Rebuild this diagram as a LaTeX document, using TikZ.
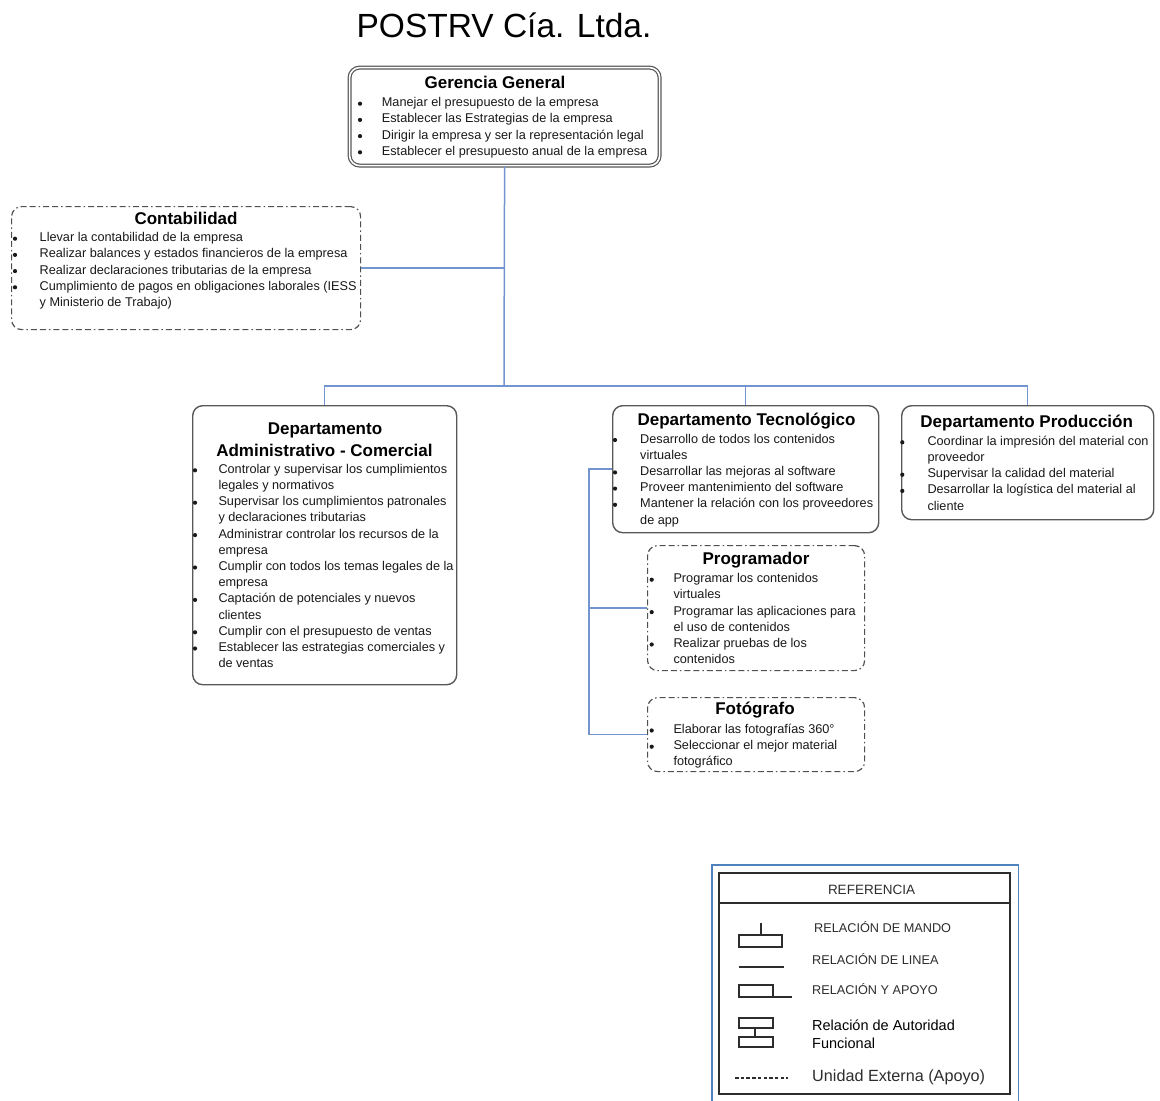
\documentclass[tikz,border=0pt]{standalone}
\usepackage{fontspec}
\setmainfont{Liberation Sans}
\usepackage{array}
\definecolor{linkblue}{RGB}{114,148,207}
\definecolor{framegray}{RGB}{88,88,88}
\definecolor{dashgray}{RGB}{80,80,80}
\definecolor{legendblue}{RGB}{79,129,189}
\definecolor{bodyink}{RGB}{25,25,25}
\definecolor{legendink}{RGB}{45,45,45}

% round list bullet, sized like a word-processor bullet
\newcommand\dutybullet{\tikz[baseline=0pt, x=1pt, y=1pt]\fill[bodyink] (2.3,3) circle (2.1);}

\tikzset{
  solidbox/.style={draw=framegray, line width=1.4pt, rounded corners=10pt,
    anchor=north west, inner sep=0pt, fill=white},
  headbox/.style={solidbox, double, double distance=1.6pt, line width=1.2pt},
  dashbox/.style={draw=dashgray, line width=1.2pt, rounded corners=10pt,
    anchor=north west, inner sep=0pt, fill=white,
    dash pattern=on 6pt off 3pt on 6pt off 3pt on 1.5pt off 3pt},
  boxtitle/.style={anchor=base, inner sep=0pt, text=black,
    font=\fontsize{17}{20}\selectfont\bfseries},
  duty/.style={anchor=base west, inner sep=0pt, text=bodyink,
    font=\fontsize{12.7}{16.2}\selectfont},
  conn/.style={draw=linkblue, line width=1.5pt},
  legsym/.style={draw=legendink, line width=1.3pt},
  legtext/.style={anchor=base west, inner sep=0pt, text=legendink},
}

\begin{document}
\begin{tikzpicture}[x=1pt, y=-1pt]
\useasboundingbox (0,0) rectangle (1160,1101);

% ---- heading
\node[anchor=base, inner sep=0pt, font=\fontsize{33.5}{40}\selectfont] (title)
  at (504,37.3) {POSTRV Cía. Ltda.};

% ---- unit frames
\node[headbox, minimum width=310pt, minimum height=98pt] (ger) at (349,67) {};
\node[dashbox, minimum width=349pt, minimum height=123pt] (cont) at (11,206) {};
\node[solidbox, minimum width=264pt, minimum height=279pt] (adm) at (192,405) {};
\node[solidbox, minimum width=266pt, minimum height=127pt] (tech) at (612,405) {};
\node[solidbox, minimum width=252pt, minimum height=114pt] (prod) at (901,405) {};
\node[dashbox, minimum width=217pt, minimum height=125pt] (prog) at (647,545) {};
\node[dashbox, minimum width=217pt, minimum height=74pt] (foto) at (647,697) {};

% ---- connectors
\coordinate (bus) at (504,386);
\coordinate (techbranch) at (589,600);
\draw[conn] (ger.south) -- (bus);
\draw[conn] (cont.east) -- (cont.east -| ger.south);
\draw[conn] (adm.north) |- (bus) -| (prod.north);
\draw[conn] (tech.north) -- (tech.north |- bus);
\draw[conn] (tech.west) -- (tech.west -| techbranch) |- (foto.west);
\draw[conn] (prog.west -| techbranch) -- (prog.west);

% ---- Gerencia General
\node[boxtitle] (gerT) at (495,88) {Gerencia General};
\node[duty] (gerL) at (357.7,106.7) {\begin{tabular}[t]{@{}p{24pt}@{}l@{}}
\dutybullet&Manejar el presupuesto de la empresa\\
\dutybullet&Establecer las Estrategias de la empresa\\
\dutybullet&Dirigir la empresa y ser la representación legal\\
\dutybullet&Establecer el presupuesto anual de la empresa
\end{tabular}};

% ---- Contabilidad
\node[boxtitle] (contT) at (186,224) {Contabilidad};
\node[duty] (contL) at (12.7,241.7) {\begin{tabular}[t]{@{}p{26.8pt}@{}l@{}}
\dutybullet&Llevar la contabilidad de la empresa\\
\dutybullet&Realizar balances y estados financieros de la empresa\\
\dutybullet&Realizar declaraciones tributarias de la empresa\\
\dutybullet&Cumplimiento de pagos en obligaciones laborales (IESS\\
&y Ministerio de Trabajo)
\end{tabular}};

% ---- Departamento Administrativo - Comercial
\node[boxtitle] (admT) at (325,434) {Departamento};
\node[boxtitle] (admU) at (324.5,456) {Administrativo - Comercial};
\node[duty] (admL) at (192.7,473.3) {\begin{tabular}[t]{@{}p{25.6pt}@{}l@{}}
\dutybullet&Controlar y supervisar los cumplimientos\\
&legales y normativos\\
\dutybullet&Supervisar los cumplimientos patronales\\
&y declaraciones tributarias\\
\dutybullet&Administrar controlar los recursos de la\\
&empresa\\
\dutybullet&Cumplir con todos los temas legales de la\\
&empresa\\
\dutybullet&Captación de potenciales y nuevos\\
&clientes\\
\dutybullet&Cumplir con el presupuesto de ventas\\
\dutybullet&Establecer las estrategias comerciales y\\
&de ventas
\end{tabular}};

% ---- Departamento Tecnológico
\node[boxtitle] (techT) at (746.5,425.5) {Departamento Tecnológico};
\node[duty] (techL) at (612.7,443) {\begin{tabular}[t]{@{}p{27.3pt}@{}l@{}}
\dutybullet&Desarrollo de todos los contenidos\\
&virtuales\\
\dutybullet&Desarrollar las mejoras al software\\
\dutybullet&Proveer mantenimiento del software\\
\dutybullet&Mantener la relación con los proveedores\\
&de app
\end{tabular}};

% ---- Departamento Producción
\node[boxtitle] (prodT) at (1026.7,427.3) {Departamento Producción};
\node[duty] (prodL) at (900,445.3) {\begin{tabular}[t]{@{}p{27.3pt}@{}l@{}}
\dutybullet&Coordinar la impresión del material con\\
&proveedor\\
\dutybullet&Supervisar la calidad del material\\
\dutybullet&Desarrollar la logística del material al\\
&cliente
\end{tabular}};

% ---- Programador
\node[boxtitle] (progT) at (756,564.5) {Programador};
\node[duty] (progL) at (649.4,582.7) {\begin{tabular}[t]{@{}p{23.9pt}@{}l@{}}
\dutybullet&Programar los contenidos\\
&virtuales\\
\dutybullet&Programar las aplicaciones para\\
&el uso de contenidos\\
\dutybullet&Realizar pruebas de los\\
&contenidos
\end{tabular}};

% ---- Fotógrafo
\node[boxtitle] (fotoT) at (755,714.5) {Fotógrafo};
\node[duty] (fotoL) at (649.4,733.5) {\begin{tabular}[t]{@{}p{23.9pt}@{}l@{}}
\dutybullet&Elaborar las fotografías 360°\\
\dutybullet&Seleccionar el mejor material\\
&fotográfico
\end{tabular}};

% ---- key of line types
\draw[draw=legendblue, line width=1.5pt] (712,1110) -- (712,865) -- (1018.5,865) -- (1018.5,1110);
\draw[draw=legendink, line width=1.8pt] (719,873) rectangle (1010,1094);
\draw[draw=legendink, line width=1.3pt] (719,903) -- (1010,903);
\node[anchor=base, inner sep=0pt, text=legendink, font=\fontsize{13.5}{16}\selectfont]
  (refT) at (871.5,894) {REFERENCIA};

\draw[legsym] (761,923) -- (761,935);
\draw[legsym] (739,935) rectangle (782,947);
\node[legtext, font=\fontsize{12.7}{15}\selectfont] (refMando) at (814,932.5) {RELACIÓN DE MANDO};

\draw[legsym] (739,967) -- (784,967);
\node[legtext, font=\fontsize{12.7}{15}\selectfont] (refLinea) at (812,964.5) {RELACIÓN DE LINEA};

\draw[legsym] (739,985) rectangle (773,997);
\draw[legsym] (773,997) -- (792,997);
\node[legtext, font=\fontsize{12.7}{15}\selectfont] (refApoyo) at (812,994.5) {RELACIÓN Y APOYO};

\draw[legsym] (739,1018) rectangle (773,1028);
\draw[legsym] (739,1037) rectangle (773,1047);
\draw[legsym] (755,1028) -- (755,1037);
\node[legtext, text=black, font=\fontsize{14.5}{18}\selectfont] (refAut) at (812,1030) {Relación de Autoridad};
\node[legtext, text=black, font=\fontsize{14.5}{18}\selectfont] (refFun) at (812,1048) {Funcional};

\draw[legsym, line width=1.1pt, dash pattern=on 3.5pt off 2.2pt] (735,1078) -- (788,1078);
\node[legtext, font=\fontsize{16.2}{18}\selectfont] (refExt) at (812,1081) {Unidad Externa (Apoyo)};
\end{tikzpicture}
\end{document}
